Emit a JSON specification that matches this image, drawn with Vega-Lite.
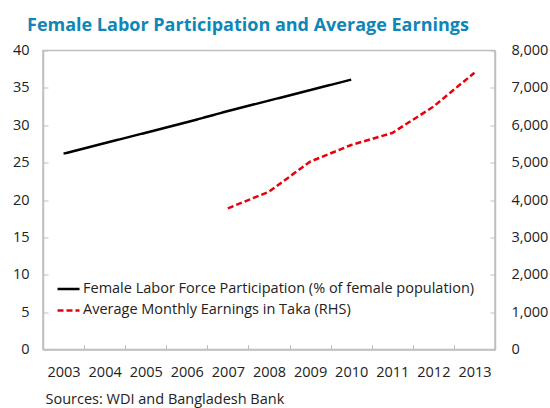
{
  "$schema": "https://vega.github.io/schema/vega-lite/v6.json",
  "width": 452,
  "height": 299,
  "autosize": {"type": "none"},
  "padding": {"left": 43, "top": 50.5, "right": 55, "bottom": 58.5},
  "background": "white",
  "config": {
    "font": "Open Sans",
    "view": {"stroke": "#bfbfbf", "strokeWidth": 1.5},
    "axis": {
      "labelFont": "Open Sans",
      "labelFontSize": 14.5,
      "labelColor": "#222222",
      "domainColor": "#bfbfbf",
      "domainWidth": 1.5,
      "tickColor": "#bfbfbf",
      "tickWidth": 1,
      "grid": false
    }
  },
  "title": {
    "text": "Female Labor Participation and Average Earnings",
    "anchor": "start",
    "frame": "group",
    "dx": -16,
    "offset": 8,
    "font": "Open Sans",
    "fontSize": 18,
    "fontWeight": "bold",
    "color": "#0e86b8"
  },
  "data": {
    "values": [
      {"year": "2003", "series": "lfp", "value": 26.2},
      {"year": "2004", "series": "lfp", "value": 27.6},
      {"year": "2005", "series": "lfp", "value": 29.0},
      {"year": "2006", "series": "lfp", "value": 30.4},
      {"year": "2007", "series": "lfp", "value": 31.9},
      {"year": "2008", "series": "lfp", "value": 33.3},
      {"year": "2009", "series": "lfp", "value": 34.7},
      {"year": "2010", "series": "lfp", "value": 36.1},
      {"year": "2011", "series": "lfp", "value": null},
      {"year": "2012", "series": "lfp", "value": null},
      {"year": "2013", "series": "lfp", "value": null},
      {"year": "2007", "series": "earn", "value": 3778},
      {"year": "2008", "series": "earn", "value": 4222},
      {"year": "2009", "series": "earn", "value": 5025},
      {"year": "2010", "series": "earn", "value": 5472},
      {"year": "2011", "series": "earn", "value": 5793},
      {"year": "2012", "series": "earn", "value": 6497},
      {"year": "2013", "series": "earn", "value": 7406}
    ]
  },
  "encoding": {
    "x": {
      "field": "year",
      "type": "ordinal",
      "bandPosition": 0.5,
      "scale": {"type": "band", "paddingInner": 0, "paddingOuter": 0},
      "axis": {
        "title": "Sources: WDI and Bangladesh Bank",
        "titleAnchor": "start",
        "titleAlign": "left",
        "titleFont": "Open Sans",
        "titleFontSize": 14.5,
        "titleFontWeight": "normal",
        "titleColor": "#222222",
        "titleX": 2,
        "titleY": 54,
        "titleBaseline": "alphabetic",
        "labelAngle": 0,
        "tickBand": "extent",
        "tickSize": -5,
        "labelPadding": 21
      }
    },
    "color": {
      "field": "series",
      "type": "nominal",
      "scale": {"domain": ["lfp", "earn"], "range": ["#000000", "#e8000b"]},
      "legend": {
        "title": null,
        "orient": "none",
        "legendX": 13,
        "legendY": 226,
        "symbolType": "stroke",
        "symbolSize": 484,
        "symbolStrokeWidth": 2.5,
        "labelFont": "Open Sans",
        "labelFontSize": 14.5,
        "labelColor": "#222222",
        "labelOffset": 2,
        "labelLimit": 0,
        "rowPadding": 2.4,
        "labelExpr": "datum.value === 'lfp' ? 'Female Labor Force Participation (% of female population)' : 'Average Monthly Earnings in Taka (RHS)'"
      }
    },
    "strokeDash": {
      "field": "series",
      "type": "nominal",
      "scale": {"domain": ["lfp", "earn"], "range": [[1, 0], [6, 3]]},
      "legend": {
        "title": null,
        "orient": "none",
        "legendX": 13,
        "legendY": 226,
        "symbolType": "stroke",
        "symbolSize": 484,
        "symbolStrokeWidth": 2.5,
        "labelFont": "Open Sans",
        "labelFontSize": 14.5,
        "labelColor": "#222222",
        "labelOffset": 2,
        "labelLimit": 0,
        "rowPadding": 2.4,
        "labelExpr": "datum.value === 'lfp' ? 'Female Labor Force Participation (% of female population)' : 'Average Monthly Earnings in Taka (RHS)'"
      }
    }
  },
  "layer": [
    {
      "transform": [{"filter": "datum.series === 'lfp'"}],
      "mark": {"type": "line", "strokeWidth": 2.5},
      "encoding": {
        "y": {
          "field": "value",
          "type": "quantitative",
          "scale": {"domain": [0, 40]},
          "axis": {
            "orient": "left",
            "title": null,
            "values": [0, 5, 10, 15, 20, 25, 30, 35, 40],
            "tickSize": -5,
            "labelPadding": 19,
            "domain": true
          }
        }
      }
    },
    {
      "transform": [{"filter": "datum.series === 'earn'"}],
      "mark": {"type": "line", "strokeWidth": 2.5},
      "encoding": {
        "y": {
          "field": "value",
          "type": "quantitative",
          "scale": {"domain": [0, 8000]},
          "axis": {
            "orient": "right",
            "title": null,
            "values": [0, 1000, 2000, 3000, 4000, 5000, 6000, 7000, 8000],
            "format": ",d",
            "tickSize": -5,
            "labelPadding": 21,
            "domain": true
          }
        }
      }
    }
  ],
  "resolve": {"scale": {"y": "independent"}}
}
